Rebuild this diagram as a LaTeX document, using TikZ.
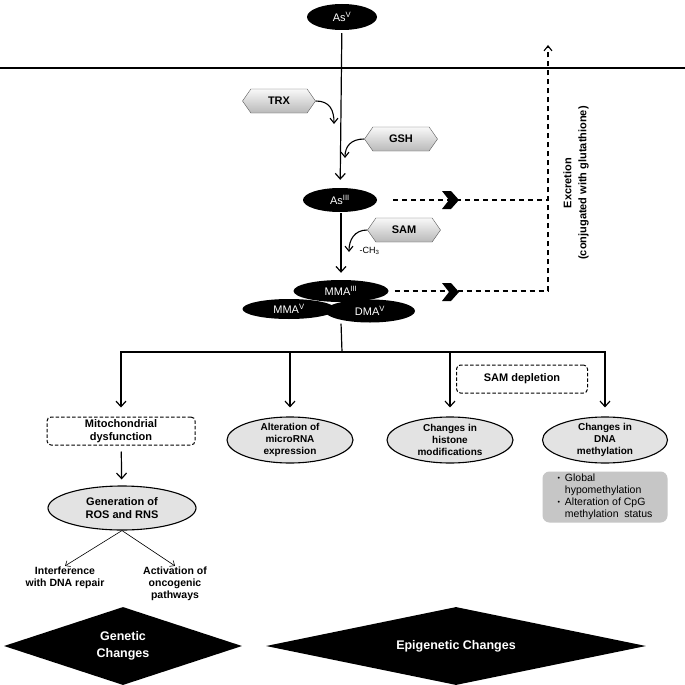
\documentclass[tikz,border=0pt]{standalone}
\usepackage{fontspec}
\setmainfont{Liberation Sans}
\usetikzlibrary{positioning, arrows.meta, shapes.geometric, shapes.symbols, calc}

\tikzset{
  arsenic/.style={ellipse, fill=black, text=white, inner sep=0pt,
    font=\fontsize{11}{13}\selectfont},
  enzyme/.style={signal, signal to=west and east, signal pointer angle=110,
    draw=gray!70!black, top color=gray!5, bottom color=gray!55,
    minimum width=73pt, minimum height=24pt, inner sep=0pt,
    font=\fontsize{11}{13}\selectfont\bfseries},
  effect/.style={ellipse, draw=black, line width=1.1pt, fill=gray!22,
    inner sep=-5pt, align=center, font=\fontsize{10}{11.7}\selectfont\bfseries},
  dashbox/.style={draw=black, line width=1pt, dash pattern=on 3.5pt off 2pt,
    rounded corners=4pt, inner sep=0pt, align=center,
    font=\fontsize{11}{12.5}\selectfont\bfseries},
  outcome/.style={align=center, inner sep=1pt,
    font=\fontsize{10.5}{12}\selectfont\bfseries},
  change/.style={diamond, fill=black, text=white, inner sep=0pt, align=center,
    font=\fontsize{12.5}{17}\selectfont\bfseries},
  flow/.style={line width=1.2pt, -{Straight Barb[length=5.5pt,width=10pt]}},
  feed/.style={line width=1.1pt, -{Straight Barb[length=5pt,width=8pt]}},
  thinflow/.style={line width=0.6pt, -{Straight Barb[length=4pt,width=7pt]}},
  excr/.style={line width=1.1pt, dash pattern=on 5pt off 4pt},
  chevron/.pic={\fill (-8,-9) -- (1,-9) -- (9,0) -- (1,9) -- (-8,9) -- (-1,0) -- cycle;}
}

\begin{document}
\begin{tikzpicture}[x=1pt, y=-1pt]
  \useasboundingbox[fill=white] (0,0) rectangle (685,685);

  % cell membrane
  \draw[line width=1.2pt] (0,68) -- (685,68);

  % arsenic species
  \node[arsenic, minimum width=70pt, minimum height=26pt] (as5) at (342,17) {As\textsuperscript{V}};
  \node[arsenic, minimum width=74pt, minimum height=24pt] (as3) at (340,200) {As\textsuperscript{III}};
  \node[arsenic, minimum width=93pt, minimum height=20pt] (mma5) at (289,309) {MMA\textsuperscript{V}};
  \node[arsenic, minimum width=90pt, minimum height=23pt] (dma5) at (370,311) {DMA\textsuperscript{V}};
  \node[arsenic, minimum width=95pt, minimum height=22pt] (mma3) at (341,291) {MMA\textsuperscript{III}};

  % reducing agents and methyl donor
  \node[enzyme] (trx) at (279,101) {TRX};
  \node[enzyme] (gsh) at (401,139) {GSH};
  \node[enzyme] (sam) at (404,230) {SAM};
  \coordinate (trxEnd) at (334,124);
  \coordinate (gshEnd) at (345,158);
  \coordinate (samEnd) at (349,252);
  \node[font=\fontsize{9}{11}\selectfont, anchor=west] (ch3) at (356,251) {-CH\textsubscript{3}};

  \draw[flow, shorten <=3pt, shorten >=8pt] (as5) -- (as3);
  \draw[flow, shorten <=1pt, shorten >=7pt] (as3.south -| mma3) -- (mma3);
  \draw[feed] (trx.east) .. controls +(14,0) and +(0,-14) .. (trxEnd);
  \draw[feed] (gsh.west) .. controls +(-13,0) and +(0,-12) .. (gshEnd);
  \draw[feed] (sam.west) .. controls +(-13,0) and +(0,-12) .. (samEnd);

  % excretion
  \coordinate (excTop) at (548,45);
  \draw[excr, shorten <=16pt] (as3.east) -- (as3.east -| excTop);
  \draw[excr, shorten <=6pt, -{Straight Barb[length=5pt,width=8pt]}]
    (mma3.east) -- (mma3.east -| excTop) -- (excTop);
  \pic at (450,200) {chevron};
  \pic at (450,292) {chevron};
  \node[rotate=90, align=center, font=\fontsize{11}{15}\selectfont\bfseries] (exctext) at (576,183)
    {Excretion\\(conjugated with glutathione)};

  % effects
  \node[dashbox, minimum width=148pt, minimum height=28pt] (mito) at (121,431) {Mitochondrial\\dysfunction};
  \node[effect, minimum width=126pt, minimum height=46pt] (mirna) at (290,440) {Alteration of\\microRNA\\expression};
  \node[effect, minimum width=126pt, minimum height=46pt] (histone) at (450,440) {Changes in\\histone\\modifications};
  \node[effect, minimum width=125pt, minimum height=46pt] (dnam) at (605,440) {Changes in\\DNA\\methylation};
  \node[dashbox, minimum width=131pt, minimum height=28pt] (samdep) at (522,379) {SAM depletion};
  \node[effect, minimum width=148pt, minimum height=44pt, font=\fontsize{11}{13}\selectfont\bfseries] (ros) at (122,508) {Generation of\\ROS and RNS};
  \node[fill=gray!45, rounded corners=7pt, minimum width=125pt, minimum height=51pt, inner sep=0pt,
        font=\fontsize{10.5}{12}\selectfont] (methbox) at (605,497)
    {\begin{tabular}{@{}l@{\hspace{5pt}}l@{}}
      \raisebox{1pt}{\scriptsize\textbullet} & Global\\
       & hypomethylation\\
      \raisebox{1pt}{\scriptsize\textbullet} & Alteration of CpG\\
       & methylation~~status
     \end{tabular}};
  \node[outcome] (interf) at (65,578) {Interference\\with DNA repair};
  \node[outcome] (onco) at (175,584) {Activation of\\oncogenic\\pathways};

  \coordinate (split) at (342,352);
  \draw[line width=1.2pt, shorten <=1pt] (dma5.south -| mma3) -- (split);
  \draw[flow, shorten >=9pt] (split) -| (mito);
  \draw[flow, shorten >=9pt] (split) -| (dnam);
  \draw[flow, shorten >=9pt] (split -| mirna) -- (mirna);
  \draw[flow, shorten >=9pt] (split -| histone) -- (histone);
  \draw[flow, shorten <=6pt, shorten >=6pt] (mito) -- (ros);
  \draw[thinflow] (ros.south) -- (interf.north);
  \draw[thinflow] (ros.south) -- (onco.north);

  % outcomes
  \node[change, aspect=3.05, minimum width=238pt, minimum height=78pt] (genetic) at (123,646) {Genetic\\Changes};
  \node[change, aspect=4.87, minimum width=380pt, minimum height=78pt] (epigen) at (456,646) {Epigenetic Changes};
\end{tikzpicture}
\end{document}
